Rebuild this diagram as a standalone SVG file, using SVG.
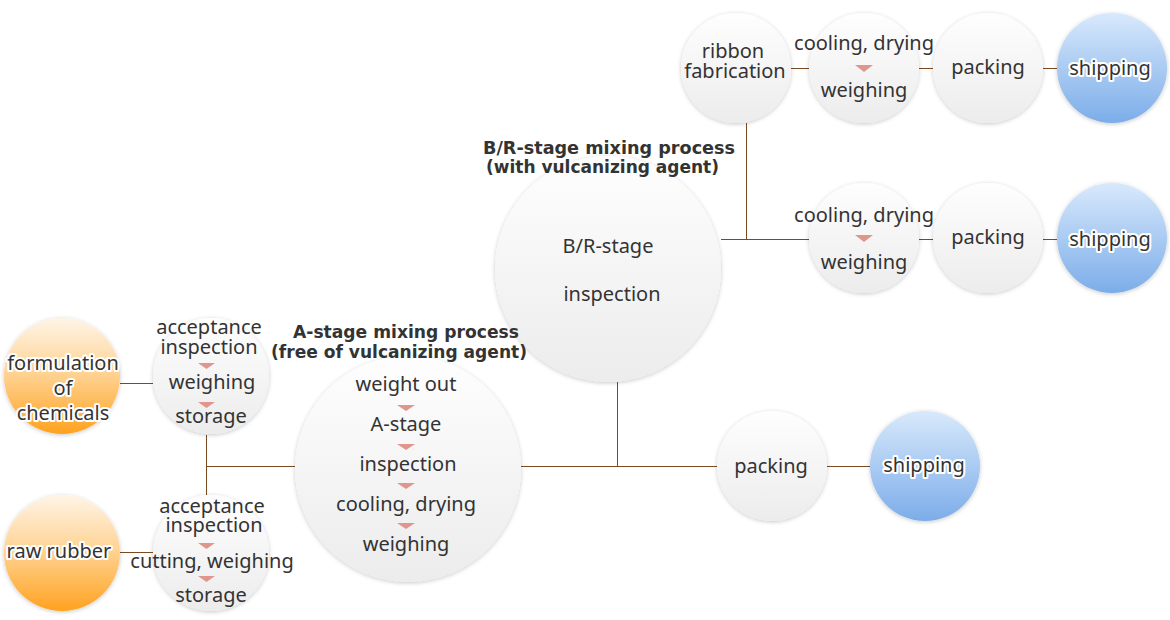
<svg xmlns="http://www.w3.org/2000/svg" width="1170" height="620" viewBox="0 0 1170 620">
<defs>
<linearGradient id="gW" x1="0" y1="0" x2="0" y2="1"><stop offset="0" stop-color="#fefefe"/><stop offset="1" stop-color="#ececec"/></linearGradient>
<linearGradient id="gO" x1="0" y1="0" x2="0" y2="1"><stop offset="0" stop-color="#fff4e6"/><stop offset="0.45" stop-color="#ffd598"/><stop offset="1" stop-color="#ffa220"/></linearGradient>
<linearGradient id="gB" x1="0" y1="0" x2="0" y2="1"><stop offset="0" stop-color="#d8e9fc"/><stop offset="1" stop-color="#7cade9"/></linearGradient>
<filter id="sh" x="-20%" y="-20%" width="140%" height="140%"><feDropShadow dx="0" dy="1" stdDeviation="2" flood-color="#000" flood-opacity="0.22"/></filter>
<style>
.cw{fill:url(#gW);filter:url(#sh)}
.co{fill:url(#gO);filter:url(#sh)}
.cb{fill:url(#gB);filter:url(#sh)}
.t{font-family:"Noto Sans","Open Sans","DejaVu Sans",sans-serif;font-size:20px;fill:#333;text-anchor:middle}
.o{stroke:#fff;stroke-width:4;stroke-linejoin:round;paint-order:stroke}
.h{font-family:"DejaVu Sans","Noto Sans",sans-serif;font-size:17px;font-weight:bold;fill:#333}
.tri{fill:#e0968c}
.ln{stroke:#7a4b22;stroke-width:1;fill:none}
</style>
</defs>
<rect width="1170" height="620" fill="#fff"/>
<g id="connectors">
<path class="ln" d="M120 383.5H153 M120 552.5H153 M206.5 435V495 M206.5 466.5H295 M521 466.5H717 M617.5 382V466.5 M827 466.5H870 M721 239.5H809 M746.5 123V239.5 M919 239.5H933 M1043 239.5H1057 M791 68.5H809 M919 68.5H933 M1043 68.5H1057"/>
</g>
<g id="formulation"><circle class="co" cx="62" cy="376" r="58"/><text class="t o" x="63" y="370">formulation</text><text class="t o" x="63" y="395">of</text><text class="t o" x="63" y="420">chemicals</text></g>
<g id="rawrubber"><circle class="co" cx="62" cy="553" r="58"/><text class="t o" x="59" y="558">raw rubber</text></g>
<g id="accept1"><circle class="cw" cx="211" cy="376" r="58"/>
<text class="t" x="209" y="334">acceptance</text><text class="t" x="209" y="354">inspection</text>
<path class="tri" d="M198 363H215L206.5 369Z"/>
<text class="t" x="212" y="389">weighing</text>
<path class="tri" d="M198 402H215L206.5 408Z"/>
<text class="t" x="211" y="423">storage</text></g>
<g id="accept2"><circle class="cw" cx="211" cy="553" r="58"/>
<text class="t" x="212" y="513">acceptance</text><text class="t" x="214" y="532">inspection</text>
<path class="tri" d="M198 543H215L206.5 549Z"/>
<text class="t" x="212" y="568">cutting, weighing</text>
<path class="tri" d="M198 576H215L206.5 582Z"/>
<text class="t" x="211" y="602">storage</text></g>
<g id="brstage"><circle class="cw" cx="608" cy="269" r="113"/>
<text class="h" x="483" y="154" textLength="252" lengthAdjust="spacingAndGlyphs">B/R-stage mixing process</text>
<text class="h" x="486" y="173" textLength="233" lengthAdjust="spacingAndGlyphs">(with vulcanizing agent)</text>
<text class="t" x="608" y="253">B/R-stage</text>
<text class="t" x="612" y="301">inspection</text></g>
<g id="astage"><circle class="cw" cx="408" cy="469" r="113"/>
<text class="h" x="293" y="338" textLength="226" lengthAdjust="spacingAndGlyphs">A-stage mixing process</text>
<text class="h" x="271" y="358" textLength="256" lengthAdjust="spacingAndGlyphs">(free of vulcanizing agent)</text>
<text class="t" x="406" y="391">weight out</text>
<path class="tri" d="M397 405H415L406 411Z"/>
<text class="t" x="406" y="431">A-stage</text>
<path class="tri" d="M397 444H415L406 450Z"/>
<text class="t" x="408" y="471">inspection</text>
<path class="tri" d="M397 483H415L406 489Z"/>
<text class="t" x="406" y="511">cooling, drying</text>
<path class="tri" d="M397 523H415L406 529Z"/>
<text class="t" x="406" y="551">weighing</text></g>
<g id="ribbon"><circle class="cw" cx="736" cy="68" r="55"/><text class="t" x="733" y="58">ribbon</text><text class="t" x="735" y="78">fabrication</text></g>
<g id="cool1"><circle class="cw" cx="864" cy="68" r="55"/><text class="t" x="864" y="50">cooling, drying</text><path class="tri" d="M855 65H873L864 72Z"/><text class="t" x="864" y="97">weighing</text></g>
<g id="pack1"><circle class="cw" cx="988" cy="68" r="55"/><text class="t" x="988" y="74">packing</text></g>
<g id="ship1"><circle class="cb" cx="1112" cy="68" r="55"/><text class="t o" x="1110" y="75">shipping</text></g>
<g id="cool2"><circle class="cw" cx="864" cy="238" r="55"/><text class="t" x="864" y="222">cooling, drying</text><path class="tri" d="M855 235H873L864 242Z"/><text class="t" x="864" y="269">weighing</text></g>
<g id="pack2"><circle class="cw" cx="988" cy="238" r="55"/><text class="t" x="988" y="244">packing</text></g>
<g id="ship2"><circle class="cb" cx="1112" cy="238" r="55"/><text class="t o" x="1110" y="246">shipping</text></g>
<g id="pack3"><circle class="cw" cx="772" cy="466" r="55"/><text class="t" x="771" y="473">packing</text></g>
<g id="ship3"><circle class="cb" cx="925" cy="466" r="55"/><text class="t o" x="924" y="472">shipping</text></g>
</svg>
